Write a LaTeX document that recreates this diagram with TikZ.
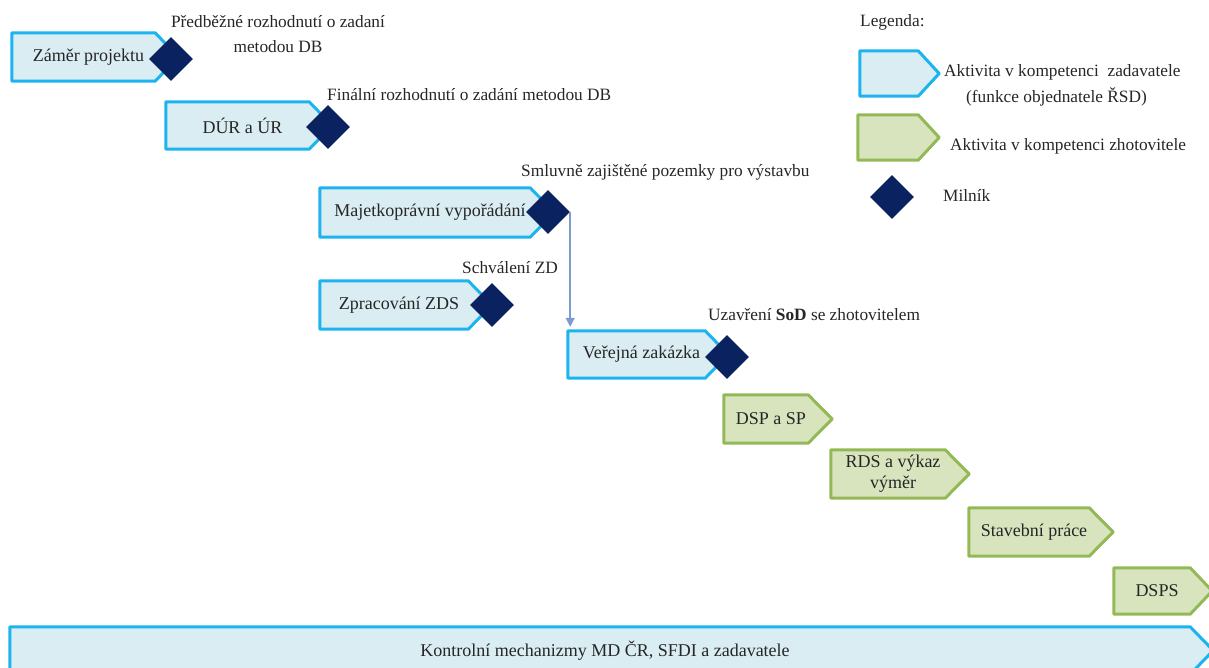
\documentclass[tikz,border=0pt]{standalone}
\usepackage{fontspec}
\setmainfont{Liberation Serif}
\usetikzlibrary{calc,shapes.geometric,arrows.meta}
\pgfdeclarelayer{bg}
\pgfsetlayers{bg,main}

\definecolor{zadline}{HTML}{1CB4EE}
\definecolor{zadfill}{HTML}{DAEDF3}
\definecolor{zholine}{HTML}{93B956}
\definecolor{zhofill}{HTML}{D7E4BD}
\definecolor{milnik}{HTML}{0B2260}
\definecolor{flow}{HTML}{7C9BCF}
\definecolor{txt}{HTML}{262626}

% outline of an activity block: body rectangle of node #1 plus a pointed end of depth #3
\newcommand\actblock[3]{%
  \begin{pgfonlayer}{bg}
    \draw[#2] (#1.north west) -- (#1.north east) -- ($(#1.east)+(#3,0)$)
      -- (#1.south east) -- (#1.south west) -- cycle;
  \end{pgfonlayer}}
% small lead-in so block captions sit a little toward the pointed end
\newcommand\lead{\hspace*{10pt}}

\tikzset{
  body/.style={inner sep=0pt, text=txt, align=center,
    font=\fontsize{18}{21}\selectfont},
  zad/.style={line width=3pt, line join=round, draw=zadline, fill=zadfill},
  zho/.style={line width=3pt, line join=round, draw=zholine, fill=zhofill},
  ms/.style={diamond, aspect=1, inner sep=0pt, minimum size=44pt, fill=milnik},
  lbl/.style={inner sep=0pt, text=txt, font=\fontsize{17.3}{25}\selectfont},
}

\begin{document}
\begin{tikzpicture}[x=1pt,y=-1pt]
\clip (0,0) rectangle (1209,668);

% activities of the contracting authority
\node[body, minimum width=143pt, minimum height=48pt] (zamer) at (83.5,57) {\lead Záměr projektu};
\actblock{zamer}{zad}{23}
\node[body, minimum width=143pt, minimum height=47pt] (dur) at (237.5,125.5) {\lead DÚR a ÚR};
\actblock{dur}{zad}{23}
\node[body, minimum width=210pt, minimum height=49pt] (maj) at (425,212.5) {\lead Majetkoprávní vypořádání};
\actblock{maj}{zad}{24}
\node[body, minimum width=148pt, minimum height=48pt] (zds) at (394,305) {\lead Zpracování ZDS};
\actblock{zds}{zad}{24}
\node[body, minimum width=137pt, minimum height=47pt] (vz) at (636.5,354.5) {\lead Veřejná zakázka};
\actblock{vz}{zad}{23}

% activities of the contractor
\node[body, minimum width=84pt, minimum height=48pt] (dsp) at (766,419) {\lead DSP a SP};
\actblock{dsp}{zho}{24}
\node[body, minimum width=114pt, minimum height=48pt] (rds) at (888,474) {\lead RDS a výkaz\\\lead výměr};
\actblock{rds}{zho}{24}
\node[body, minimum width=120pt, minimum height=48pt] (stav) at (1029,532) {\lead Stavební práce};
\actblock{stav}{zho}{24}
\node[body, minimum width=76pt, minimum height=46pt] (dsps) at (1152,591) {\lead DSPS};
\actblock{dsps}{zho}{22}

% supervision bar
\node[body, minimum width=1180pt, minimum height=47pt] (kontrol) at (600,650.5)
  {\lead Kontrolní mechanizmy MD ČR, SFDI a zadavatele};
\actblock{kontrol}{zad}{23}

% milestones
\node[ms] (m1) at (171,59) {};
\node[ms] (m2) at (328,127) {};
\node[ms] (m3) at (548,212) {};
\node[ms] (m4) at (492,305) {};
\node[ms] (m5) at (727,357) {};

\node[lbl, align=center] (t1) at (278,34.5) {Předběžné rozhodnutí o zadaní\\metodou DB};
\node[lbl, anchor=west] (t2) at (327,95) {Finální rozhodnutí o zadání metodou DB};
\node[lbl, anchor=west] (t3) at (521,172) {Smluvně zajištěné pozemky pro výstavbu};
\node[lbl, anchor=west] (t4) at (462,268) {Schválení ZD};
\node[lbl, anchor=west] (t5) at (708,315) {Uzavření \textbf{SoD} se zhotovitelem};

% dependency
\coordinate (vztop) at ($(m3.east |- vz.north)+(0,-4)$);
\draw[flow, line width=1.5pt, -{Triangle[length=9pt,width=9pt]}] (m3.east) -- (vztop);

% legend
\node[lbl, anchor=west] (leg) at (860,22) {Legenda:};
\node[body, minimum width=58pt, minimum height=45pt] (lz) at (889,73.5) {};
\actblock{lz}{zad}{21}
\node[lbl, anchor=west] (lzt) at (944,72) {Aktivita v kompetenci\ \ zadavatele};
\node[lbl, anchor=west] (lzt2) at (966,97) {(funkce objednatele ŘSD)};
\node[body, minimum width=60pt, minimum height=45pt] (lh) at (888,137.5) {};
\actblock{lh}{zho}{21}
\node[lbl, anchor=west] (lht) at (950,146) {Aktivita v kompetenci zhotovitele};
\node[ms] (lm) at (892,197) {};
\node[lbl, anchor=west] (lmt) at (943,195) {Milník};
\end{tikzpicture}
\end{document}
